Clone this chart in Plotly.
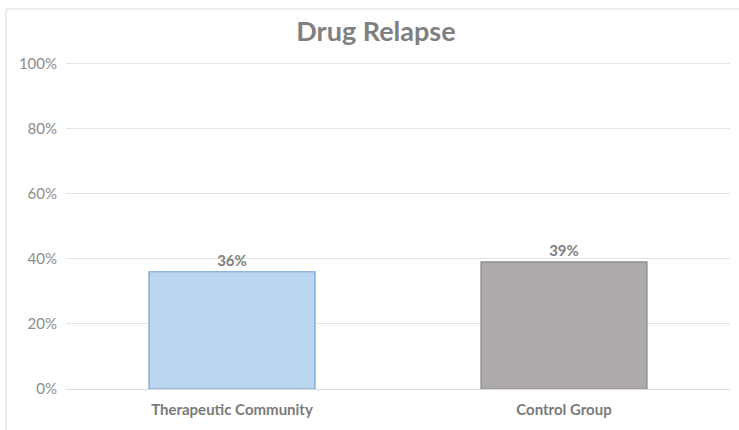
import plotly.graph_objects as go

categories = ["Therapeutic Community", "Control Group"]
values = [0.36, 0.39]
labels = ["36%", "39%"]
fills = ["#bcd6ef", "#aeaaaa"]
outlines = ["#6f9fd8", "#8a8888"]

fig = go.Figure()
fig.add_trace(go.Bar(
    x=categories, y=values, text=labels,
    textposition="outside", cliponaxis=False,
    textfont=dict(family="Lato", size=15, color="#7f7f7f", weight="bold"),
    marker=dict(color=fills, line=dict(color=outlines, width=1.2)),
    width=0.5,
))

fig.update_layout(
    width=739, height=430,
    margin=dict(l=66, r=9, t=60, b=41),
    paper_bgcolor="white", plot_bgcolor="white",
    showlegend=False,
    title=dict(text="<b>Drug Relapse</b>", x=376/739, xanchor="center", xref="container",
               y=1 - 32/430, yanchor="middle", yref="container",
               font=dict(family="Lato", size=27, color="#7f7f7f")),
)
fig.update_yaxes(range=[0, 1.01], tickvals=[0, 0.2, 0.4, 0.6, 0.8, 1.0],
                 ticktext=["0%", "20%", "40%", "60%", "80%", "100%"],
                 showgrid=True, gridcolor="#e3e3e3", gridwidth=1,
                 zeroline=True, zerolinecolor="#dcdcdc", zerolinewidth=1,
                 showline=False, ticks="", ticklabelstandoff=8,
                 tickfont=dict(family="Lato", size=15, color="#8c8c8c"))
fig.update_xaxes(showline=False, ticks="", ticklabelstandoff=10,
                 tickfont=dict(family="Lato", size=15, color="#7a7a7a", weight="bold"))

fig.add_shape(type="rect", xref="paper", yref="paper",
              x0=(6 - 66) / 664, x1=(760 - 66) / 664,
              y0=(389 - 450) / 329, y1=(389 - 9) / 329,
              line=dict(color="#d9d9d9", width=1), fillcolor="rgba(0,0,0,0)", layer="below")

fig.write_html("out.html")
